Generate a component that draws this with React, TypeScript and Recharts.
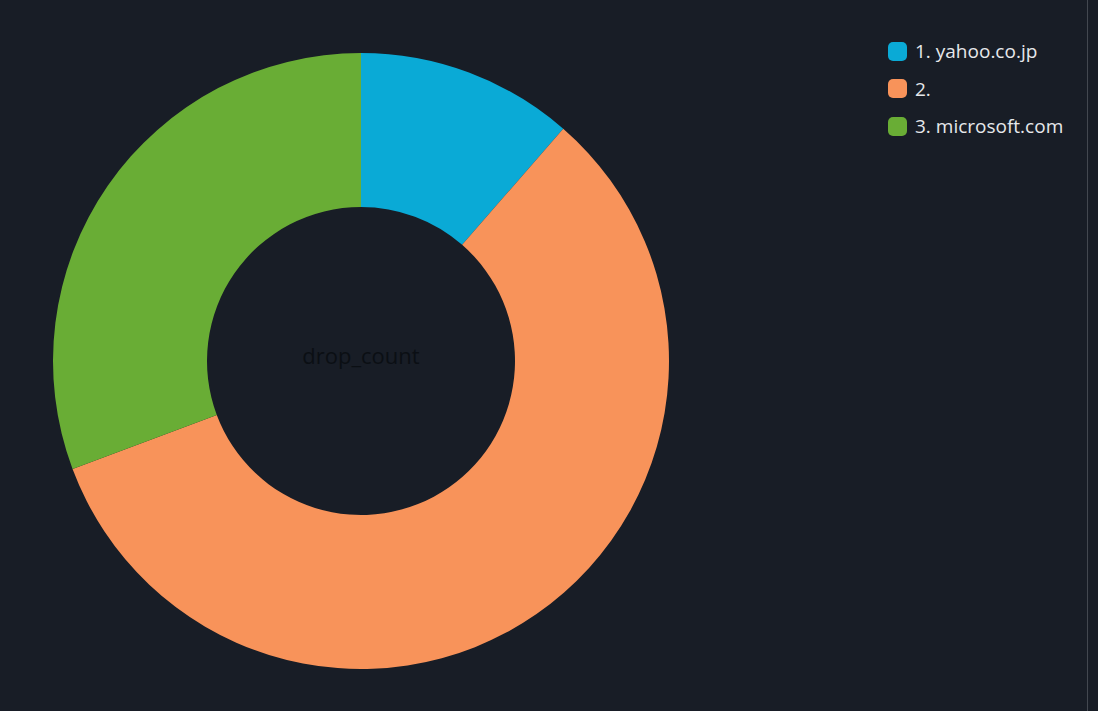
import { Cell, Legend, Pie, PieChart } from "recharts";

// Werte aus dem Bild geschätzt (Winkelanteile des Donuts)
const domains = ["1. yahoo.co.jp", "2.", "3. microsoft.com"];
const dropCounts = [114, 579, 307];
const sliceColors = ["#0aaad6", "#f8935a", "#69ad35"];

const BG = "#181d26";
const TEXT = "#e6e8eb";

const data = domains.map((name, i) => ({ name, value: dropCounts[i] }));

function LegendList() {
  return (
    <div style={{ display: "flex", flexDirection: "column", gap: 18 }}>
      {domains.map((name, i) => (
        <div key={name} style={{ display: "flex", alignItems: "center", height: 19.5 }}>
          <span
            style={{
              width: 19,
              height: 19,
              borderRadius: 5,
              background: sliceColors[i],
              marginRight: 8,
              flexShrink: 0,
            }}
          />
          <span style={{ color: TEXT, fontSize: 19, whiteSpace: "nowrap" }}>{name}</span>
        </div>
      ))}
    </div>
  );
}

export default function App() {
  return (
    <div
      style={{
        position: "fixed",
        inset: 0,
        background: BG,
        fontFamily: "'Open Sans', 'Noto Sans', sans-serif",
      }}
    >
      <div style={{ position: "absolute", left: 1087, top: 0, width: 1, height: 711, background: "#434850" }} />
      <PieChart width={1098} height={711} margin={{ top: 0, right: 0, bottom: 0, left: 0 }}>
        <Pie
          data={data}
          dataKey="value"
          nameKey="name"
          cx={361}
          cy={361}
          innerRadius={154}
          outerRadius={308}
          startAngle={90}
          endAngle={-270}
          stroke="none"
          isAnimationActive={false}
        >
          {data.map((d, i) => (
            <Cell key={d.name} fill={sliceColors[i]} />
          ))}
        </Pie>
        <text
          x={361}
          y={355}
          textAnchor="middle"
          dominantBaseline="central"
          fill="#0b0f14"
          fontSize={22}
          fontFamily="'Open Sans', 'Noto Sans', sans-serif"
        >
          drop_count
        </text>
        <Legend
          content={() => <LegendList />}
          wrapperStyle={{ left: 888, top: 41.5, width: 200 }}
        />
      </PieChart>
    </div>
  );
}
